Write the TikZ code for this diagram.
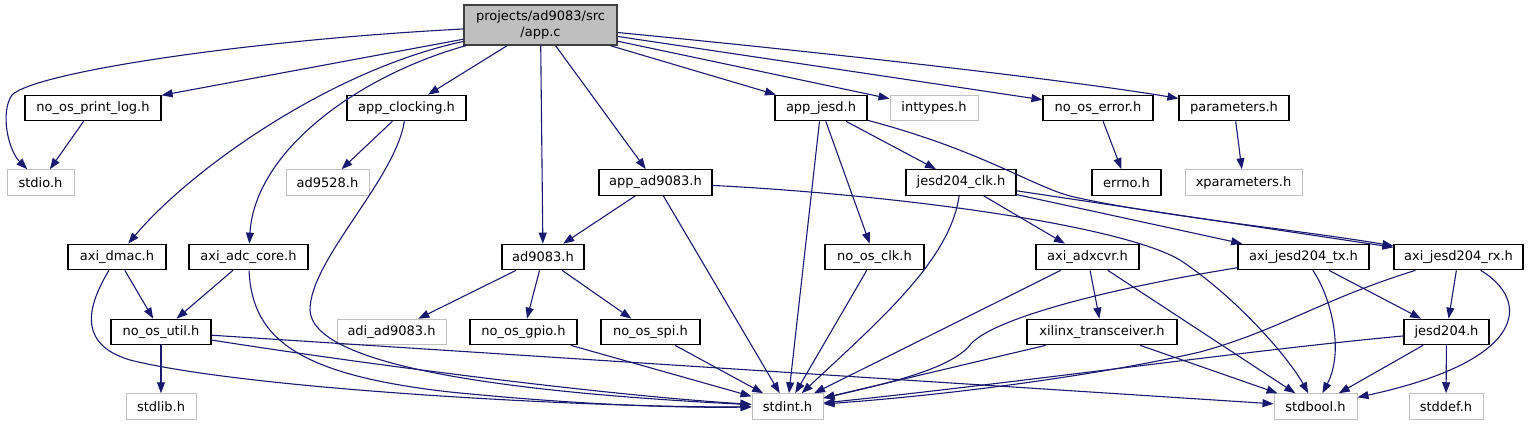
\documentclass[tikz,border=0pt]{standalone}
\usepackage{fontspec}
\setmainfont{DejaVu Sans}
\usetikzlibrary{arrows.meta}
\definecolor{edgeblue}{HTML}{191970}
\definecolor{lightgr}{HTML}{BFBFBF}
\definecolor{appfill}{HTML}{BFBFBF}
\definecolor{appdraw}{HTML}{404040}
\tikzset{
  nd/.style={inner sep=0pt, minimum height=25.5pt, font=\fontsize{13}{15.5}\selectfont, text=black},
  box/.style={nd, draw=black, fill=white, line width=1.2pt},
  gbox/.style={nd, draw=lightgr, fill=white, line width=1pt},
  appbox/.style={nd, draw=appdraw, fill=appfill, line width=1.2pt, align=center, minimum height=40pt, minimum width=153pt},
  edge/.style={draw=edgeblue, line width=1.1pt, -{Triangle[length=11pt,width=8pt]}}
}
\begin{document}
\begin{tikzpicture}[x=1pt,y=-1pt]
\useasboundingbox (0,0) rectangle (1531,425);
% row 0
\node[appbox] (app) at (540.5,25) {projects/ad9083/src\\/app.c};
% row 1
\node[box, minimum width=136] (plog) at (93,108) {no\_os\_print\_log.h};
\node[box, minimum width=119] (clocking) at (406.5,108) {app\_clocking.h};
\node[box, minimum width=92] (jesd) at (821,108) {app\_jesd.h};
\node[gbox, minimum width=88] (inttypes) at (934,108) {inttypes.h};
\node[box, minimum width=110] (error) at (1098,108) {no\_os\_error.h};
\node[box, minimum width=110] (params) at (1234,108) {parameters.h};
% row 2
\node[gbox, minimum width=67] (stdio) at (40.5,182.5) {stdio.h};
\node[gbox, minimum width=83] (ad9528) at (327.5,182.5) {ad9528.h};
\node[box, minimum width=113] (appad) at (655.5,182.5) {app\_ad9083.h};
\node[box, minimum width=110] (jclk) at (961,182.5) {jesd204\_clk.h};
\node[box, minimum width=69] (errno) at (1126.5,182.5) {errno.h};
\node[gbox, minimum width=117] (xparams) at (1243.5,182.5) {xparameters.h};
% row 3
\node[box, minimum width=98] (dmac) at (117,257) {axi\_dmac.h};
\node[box, minimum width=119] (adc) at (248.5,257) {axi\_adc\_core.h};
\node[box, minimum width=82] (ad9083) at (543,257) {ad9083.h};
\node[box, minimum width=99] (osclk) at (874.5,257) {no\_os\_clk.h};
\node[box, minimum width=103] (adxcvr) at (1087.5,257) {axi\_adxcvr.h};
\node[box, minimum width=131] (tx) at (1303.5,257) {axi\_jesd204\_tx.h};
\node[box, minimum width=129] (rx) at (1458.5,257) {axi\_jesd204\_rx.h};
% row 4
\node[box, minimum width=100] (util) at (161,332) {no\_os\_util.h};
\node[gbox, minimum width=109] (adi) at (391.5,332) {adi\_ad9083.h};
\node[box, minimum width=107] (gpio) at (523.5,332) {no\_os\_gpio.h};
\node[box, minimum width=99] (spi) at (650.5,332) {no\_os\_spi.h};
\node[box, minimum width=150] (xcvr) at (1102,332) {xilinx\_transceiver.h};
\node[box, minimum width=85] (jesd204) at (1446.5,332) {jesd204.h};
% row 5
\node[gbox, minimum width=70] (stdlib) at (161,406.5) {stdlib.h};
\node[gbox, minimum width=71] (stdint) at (787.5,406.5) {stdint.h};
\node[gbox, minimum width=83] (stdbool) at (1315.5,406.5) {stdbool.h};
\node[gbox, minimum width=74] (stddef) at (1446,406.5) {stddef.h};

% edges from app
\draw[edge] (app) .. controls (250,40) and (35,72) .. (12,95) .. controls (0,112) and (8,150) .. (stdio);
\draw[edge] (app) -- (plog);
\draw[edge] (app) .. controls (330,70) and (190,170) .. (dmac);
\draw[edge] (app) .. controls (360,75) and (255,150) .. (adc);
\draw[edge] (app) -- (clocking);
\draw[edge] (app) -- (ad9083);
\draw[edge] (app) -- (appad);
\draw[edge] (app) -- (jesd);
\draw[edge] (app) -- (inttypes);
\draw[edge] (app) -- (error);
\draw[edge] (app) .. controls (900,60) and (1100,85) .. (params);
% row 1 edges
\draw[edge] (plog) -- (stdio);
\draw[edge] (clocking) -- (ad9528);
\draw[edge] (clocking) .. controls (395,180) and (310,260) .. (310,310) .. controls (312,365) and (500,392) .. (stdint);
\draw[edge] (jesd) -- (stdint);
\draw[edge] (jesd) -- (osclk);
\draw[edge] (jesd) -- (jclk);
\draw[edge] (jesd) .. controls (980,150) and (1030,185) .. (1070,196) .. controls (1150,215) and (1300,230) .. (rx);
\draw[edge] (error) -- (errno);
\draw[edge] (params) -- (xparams);
% row 2 edges
\draw[edge] (appad) -- (ad9083);
\draw[edge] (appad) -- (stdint);
\draw[edge] (appad) .. controls (900,195) and (1120,225) .. (1180,260) .. controls (1240,300) and (1290,360) .. (stdbool);
\draw[edge] (jclk) .. controls (950,260) and (880,320) .. (stdint);
\draw[edge] (jclk) -- (adxcvr);
\draw[edge] (jclk) -- (tx);
\draw[edge] (jclk) -- (rx);
% row 3 edges
\draw[edge] (dmac) -- (util);
\draw[edge] (dmac) .. controls (85,310) and (80,345) .. (130,360) .. controls (250,390) and (600,408) .. (stdint);
\draw[edge] (adc) -- (util);
\draw[edge] (adc) .. controls (252,340) and (300,375) .. (450,392) .. controls (580,405) and (680,408) .. (stdint);
\draw[edge] (ad9083) -- (adi);
\draw[edge] (ad9083) -- (gpio);
\draw[edge] (ad9083) -- (spi);
\draw[edge] (osclk) -- (stdint);
\draw[edge] (adxcvr) -- (stdint);
\draw[edge] (adxcvr) -- (xcvr);
\draw[edge] (adxcvr) -- (stdbool);
\draw[edge] (tx) .. controls (1100,290) and (990,320) .. (970,345) .. controls (950,370) and (880,385) .. (stdint);
\draw[edge] (tx) .. controls (1330,295) and (1345,350) .. (stdbool);
\draw[edge] (tx) -- (jesd204);
\draw[edge] (rx) .. controls (1320,300) and (1280,330) .. (1200,352) .. controls (1100,375) and (950,395) .. (stdint);
\draw[edge] (rx) -- (jesd204);
\draw[edge] (rx) .. controls (1530,300) and (1530,360) .. (stdbool);
% row 4 edges
\draw[edge] (util) -- (stdlib);
\draw[edge] (util) .. controls (350,362) and (600,395) .. (stdint);
\draw[edge] (util) -- (stdbool);
\draw[edge] (gpio) -- (stdint);
\draw[edge] (spi) -- (stdint);
\draw[edge] (xcvr) -- (stdint);
\draw[edge] (xcvr) -- (stdbool);
\draw[edge] (jesd204) .. controls (1250,350) and (1000,385) .. (stdint);
\draw[edge] (jesd204) -- (stdbool);
\draw[edge] (jesd204) -- (stddef);
\end{tikzpicture}
\end{document}
